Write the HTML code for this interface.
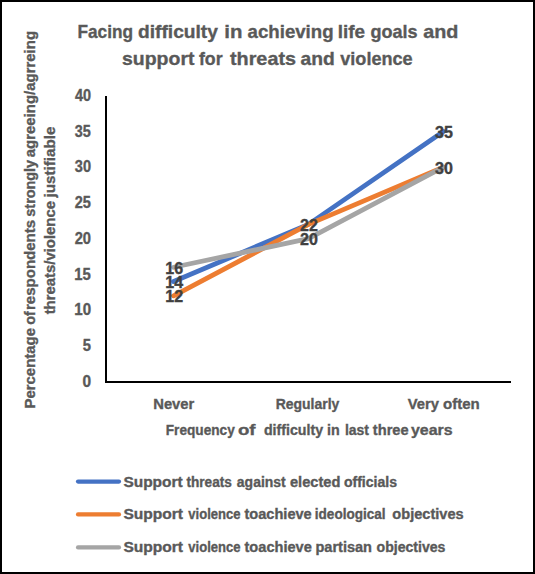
<!DOCTYPE html>
<html><head><meta charset="utf-8"><style>
html,body{margin:0;padding:0;background:#fff;}
body{width:535px;height:574px;overflow:hidden;}
svg{display:block;}
text{font-family:"Liberation Sans",sans-serif;font-weight:bold;stroke-width:0.35px;}
</style></head><body>
<svg width="535" height="574" viewBox="0 0 535 574">
<rect x="0" y="0" width="535" height="574" fill="#fff"/>
<rect x="1" y="1" width="533" height="572" fill="none" stroke="#000" stroke-width="2"/>

<text x="77.45" y="38.0" font-size="19" fill="#595959" stroke="#595959" textLength="55.54" lengthAdjust="spacingAndGlyphs">Facing</text>
<text x="138.01" y="38.0" font-size="19" fill="#595959" stroke="#595959" textLength="79.94" lengthAdjust="spacingAndGlyphs">difficulty</text>
<text x="224.24" y="38.0" font-size="19" fill="#595959" stroke="#595959" textLength="18.18" lengthAdjust="spacingAndGlyphs">in</text>
<text x="247.62" y="38.0" font-size="19" fill="#595959" stroke="#595959" textLength="85.97" lengthAdjust="spacingAndGlyphs">achieving</text>
<text x="337.86" y="38.0" font-size="19" fill="#595959" stroke="#595959" textLength="27.23" lengthAdjust="spacingAndGlyphs">life</text>
<text x="370.45" y="38.0" font-size="19" fill="#595959" stroke="#595959" textLength="47.13" lengthAdjust="spacingAndGlyphs">goals</text>
<text x="423.18" y="38.0" font-size="19" fill="#595959" stroke="#595959" textLength="35.19" lengthAdjust="spacingAndGlyphs">and</text>
<text x="121.99" y="64.9" font-size="19" fill="#595959" stroke="#595959" textLength="72.46" lengthAdjust="spacingAndGlyphs">support</text>
<text x="198.91" y="64.9" font-size="19" fill="#595959" stroke="#595959" textLength="23.65" lengthAdjust="spacingAndGlyphs">for</text>
<text x="229.98" y="64.9" font-size="19" fill="#595959" stroke="#595959" textLength="66.03" lengthAdjust="spacingAndGlyphs">threats</text>
<text x="300.60" y="64.9" font-size="19" fill="#595959" stroke="#595959" textLength="34.23" lengthAdjust="spacingAndGlyphs">and</text>
<text x="340.28" y="64.9" font-size="19" fill="#595959" stroke="#595959" textLength="72.41" lengthAdjust="spacingAndGlyphs">violence</text>
<text transform="translate(34.8,0) rotate(-90)" x="-408.60" y="0" font-size="15.2" fill="#595959" stroke="#595959" textLength="80.67" lengthAdjust="spacingAndGlyphs">Percentage</text>
<text transform="translate(34.8,0) rotate(-90)" x="-324.81" y="0" font-size="15.2" fill="#595959" stroke="#595959" textLength="13.72" lengthAdjust="spacingAndGlyphs">of</text>
<text transform="translate(34.8,0) rotate(-90)" x="-310.00" y="0" font-size="15.2" fill="#595959" stroke="#595959" textLength="90.14" lengthAdjust="spacingAndGlyphs">respondents</text>
<text transform="translate(34.8,0) rotate(-90)" x="-216.63" y="0" font-size="15.2" fill="#595959" stroke="#595959" textLength="56.62" lengthAdjust="spacingAndGlyphs">strongly</text>
<text transform="translate(34.8,0) rotate(-90)" x="-157.27" y="0" font-size="15.2" fill="#595959" stroke="#595959" textLength="126.30" lengthAdjust="spacingAndGlyphs">agreeing/agrreing</text>
<text transform="translate(55,0) rotate(-90)" x="-314.37" y="0" font-size="15.2" fill="#595959" stroke="#595959" textLength="113.41" lengthAdjust="spacingAndGlyphs">threats/violence</text>
<text transform="translate(55,0) rotate(-90)" x="-197.50" y="0" font-size="15.2" fill="#595959" stroke="#595959" textLength="70.89" lengthAdjust="spacingAndGlyphs">justifiable</text>
<text x="82.46" y="386.8" font-size="15.7" fill="#595959" stroke="#595959" textLength="8.61" lengthAdjust="spacingAndGlyphs">0</text>
<text x="82.63" y="351.07" font-size="15.7" fill="#595959" stroke="#595959" textLength="8.18" lengthAdjust="spacingAndGlyphs">5</text>
<text x="74.27" y="315.34" font-size="15.7" fill="#595959" stroke="#595959" textLength="16.80" lengthAdjust="spacingAndGlyphs">10</text>
<text x="74.28" y="279.61" font-size="15.7" fill="#595959" stroke="#595959" textLength="16.55" lengthAdjust="spacingAndGlyphs">15</text>
<text x="74.66" y="243.88" font-size="15.7" fill="#595959" stroke="#595959" textLength="16.39" lengthAdjust="spacingAndGlyphs">20</text>
<text x="74.67" y="208.15" font-size="15.7" fill="#595959" stroke="#595959" textLength="16.16" lengthAdjust="spacingAndGlyphs">25</text>
<text x="74.81" y="172.42" font-size="15.7" fill="#595959" stroke="#595959" textLength="16.23" lengthAdjust="spacingAndGlyphs">30</text>
<text x="74.82" y="136.69" font-size="15.7" fill="#595959" stroke="#595959" textLength="16.00" lengthAdjust="spacingAndGlyphs">35</text>
<text x="74.96" y="100.96" font-size="15.7" fill="#595959" stroke="#595959" textLength="16.08" lengthAdjust="spacingAndGlyphs">40</text>
<line x1="106" y1="96" x2="106" y2="383" stroke="#000" stroke-width="2"/>
<line x1="105" y1="382" x2="511" y2="382" stroke="#000" stroke-width="2"/>
<text x="153.21" y="408.7" font-size="15" fill="#595959" stroke="#595959" textLength="41.13" lengthAdjust="spacingAndGlyphs">Never</text>
<text x="275.67" y="408.7" font-size="15" fill="#595959" stroke="#595959" textLength="63.66" lengthAdjust="spacingAndGlyphs">Regularly</text>
<text x="407.70" y="408.7" font-size="15" fill="#595959" stroke="#595959" textLength="31.25" lengthAdjust="spacingAndGlyphs">Very</text>
<text x="442.97" y="408.7" font-size="15" fill="#595959" stroke="#595959" textLength="36.74" lengthAdjust="spacingAndGlyphs">often</text>
<text x="165.79" y="434.7" font-size="15" fill="#595959" stroke="#595959" textLength="68.94" lengthAdjust="spacingAndGlyphs">Frequency</text>
<text x="237.93" y="434.7" font-size="15" fill="#595959" stroke="#595959" textLength="17.57" lengthAdjust="spacingAndGlyphs">of</text>
<text x="263.91" y="434.7" font-size="15" fill="#595959" stroke="#595959" textLength="59.21" lengthAdjust="spacingAndGlyphs">difficulty</text>
<text x="327.08" y="434.7" font-size="15" fill="#595959" stroke="#595959" textLength="12.69" lengthAdjust="spacingAndGlyphs">in</text>
<text x="344.90" y="434.7" font-size="15" fill="#595959" stroke="#595959" textLength="24.11" lengthAdjust="spacingAndGlyphs">last</text>
<text x="372.83" y="434.7" font-size="15" fill="#595959" stroke="#595959" textLength="35.81" lengthAdjust="spacingAndGlyphs">three</text>
<text x="411.02" y="434.7" font-size="15" fill="#595959" stroke="#595959" textLength="41.63" lengthAdjust="spacingAndGlyphs">years</text>
<polyline points="173.6,281.56 308.4,224.39 443.4,131.49" fill="none" stroke="#4472C4" stroke-width="4.8" stroke-linecap="round" stroke-linejoin="round"/>
<polyline points="173.6,295.85 308.4,224.39 443.4,167.22" fill="none" stroke="#ED7D31" stroke-width="4.8" stroke-linecap="round" stroke-linejoin="round"/>
<polyline points="173.6,267.26 308.4,238.68 443.4,167.22" fill="none" stroke="#A5A5A5" stroke-width="4.8" stroke-linecap="round" stroke-linejoin="round"/>
<text x="174.2" y="287.86" font-size="16" fill="#404040" stroke="#404040" text-anchor="middle">14</text>
<text x="174.2" y="302.15" font-size="16" fill="#404040" stroke="#404040" text-anchor="middle">12</text>
<text x="174.2" y="273.56" font-size="16" fill="#404040" stroke="#404040" text-anchor="middle">16</text>
<text x="309.0" y="230.69" font-size="16" fill="#404040" stroke="#404040" text-anchor="middle">22</text>
<text x="309.0" y="244.98" font-size="16" fill="#404040" stroke="#404040" text-anchor="middle">20</text>
<text x="444.0" y="137.79" font-size="16" fill="#404040" stroke="#404040" text-anchor="middle">35</text>
<text x="444.0" y="173.52" font-size="16" fill="#404040" stroke="#404040" text-anchor="middle">30</text>
<line x1="78" y1="481.6" x2="119" y2="481.6" stroke="#4472C4" stroke-width="4.2" stroke-linecap="round"/>
<text x="123.41" y="486.5" font-size="14" fill="#595959" stroke="#595959" textLength="59.21" lengthAdjust="spacingAndGlyphs">Support</text>
<text x="186.44" y="486.5" font-size="14" fill="#595959" stroke="#595959" textLength="45.43" lengthAdjust="spacingAndGlyphs">threats</text>
<text x="236.86" y="486.5" font-size="14" fill="#595959" stroke="#595959" textLength="48.82" lengthAdjust="spacingAndGlyphs">against</text>
<text x="289.99" y="486.5" font-size="14" fill="#595959" stroke="#595959" textLength="50.41" lengthAdjust="spacingAndGlyphs">elected</text>
<text x="343.91" y="486.5" font-size="14" fill="#595959" stroke="#595959" textLength="53.06" lengthAdjust="spacingAndGlyphs">officials</text>
<line x1="78" y1="514.4" x2="119" y2="514.4" stroke="#ED7D31" stroke-width="4.2" stroke-linecap="round"/>
<text x="123.41" y="519.4" font-size="14" fill="#595959" stroke="#595959" textLength="59.61" lengthAdjust="spacingAndGlyphs">Support</text>
<text x="188.31" y="519.4" font-size="14" fill="#595959" stroke="#595959" textLength="52.20" lengthAdjust="spacingAndGlyphs">violence</text>
<text x="244.53" y="519.4" font-size="14" fill="#595959" stroke="#595959" textLength="67.16" lengthAdjust="spacingAndGlyphs">toachieve</text>
<text x="314.83" y="519.4" font-size="14" fill="#595959" stroke="#595959" textLength="70.72" lengthAdjust="spacingAndGlyphs">ideological</text>
<text x="392.39" y="519.4" font-size="14" fill="#595959" stroke="#595959" textLength="71.23" lengthAdjust="spacingAndGlyphs">objectives</text>
<line x1="78" y1="547.4" x2="119" y2="547.4" stroke="#A5A5A5" stroke-width="4.2" stroke-linecap="round"/>
<text x="123.41" y="551.8" font-size="14" fill="#595959" stroke="#595959" textLength="59.61" lengthAdjust="spacingAndGlyphs">Support</text>
<text x="188.31" y="551.8" font-size="14" fill="#595959" stroke="#595959" textLength="52.20" lengthAdjust="spacingAndGlyphs">violence</text>
<text x="244.53" y="551.8" font-size="14" fill="#595959" stroke="#595959" textLength="67.26" lengthAdjust="spacingAndGlyphs">toachieve</text>
<text x="315.43" y="551.8" font-size="14" fill="#595959" stroke="#595959" textLength="56.57" lengthAdjust="spacingAndGlyphs">partisan</text>
<text x="376.61" y="551.8" font-size="14" fill="#595959" stroke="#595959" textLength="68.79" lengthAdjust="spacingAndGlyphs">objectives</text>
</svg></body></html>
